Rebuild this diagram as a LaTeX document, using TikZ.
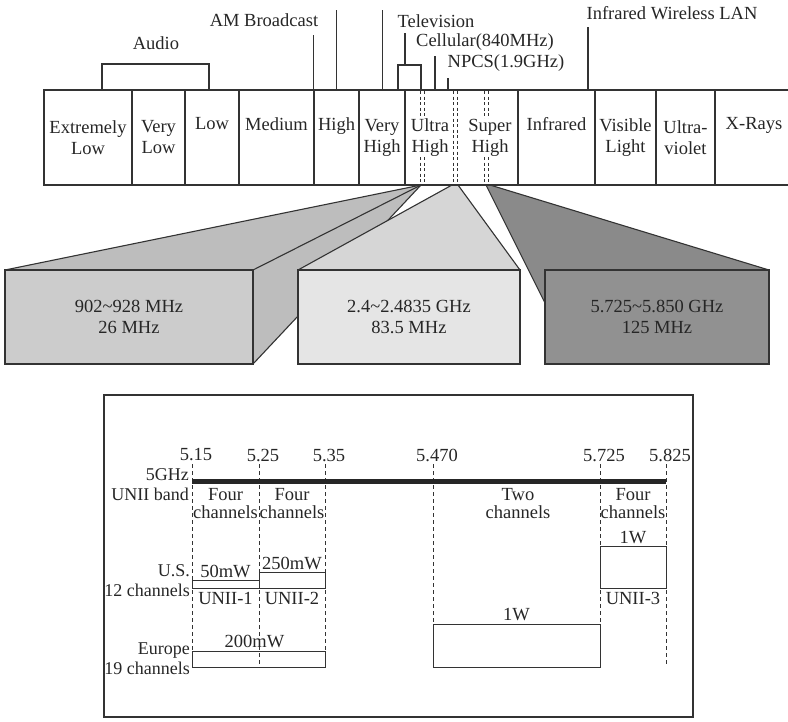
\documentclass[tikz,border=0pt]{standalone}
\usepackage{fontspec}
\setmainfont{Liberation Serif}
\usetikzlibrary{positioning}

\begin{document}
\begin{tikzpicture}[x=1pt, y=-1pt,
  ink/.style={draw=black!80, line width=1.1pt},
  cell/.style={ink, minimum height=95pt, inner sep=0pt, align=center, text=black!85, font=\fontsize{18.5}{21}\selectfont},
  lbl/.style={inner sep=0pt, align=center, text=black!85, font=\fontsize{18.5}{18}\selectfont},
  tag/.style={lbl, anchor=east, align=right, font=\fontsize{18}{20}\selectfont},
  box/.style={ink, minimum height=94pt, inner sep=0pt, align=center, text=black!85, font=\fontsize{18.5}{21}\selectfont},
  pw/.style={draw=black!80, line width=0.9pt, inner sep=0pt, minimum height=8pt},
  pair/.style={draw=black!80, line width=0.8pt, dash pattern=on 3pt off 2.5pt},
  guide/.style={draw=black!80, line width=0.8pt, dash pattern=on 4pt off 3pt}
]
\useasboundingbox (0,0) rectangle (788,721);

% zoomed bands under the spectrum
\fill[black!26] (421,185) -- (5,270) -- (253,270) -- (253,364) -- cycle;
\draw[ink] (421,185) -- (5,270);
\draw[ink] (421,185) -- (253,270);
\draw[ink] (421,185) -- (253,364);
\node[box, fill=black!20, minimum width=248pt] (b900) at (129,317) {902\textasciitilde928 MHz\\26 MHz};

\fill[black!16] (452,185) -- (298,270) -- (520,270) -- (458,185) -- cycle;
\draw[ink] (452,185) -- (298,270);
\draw[ink] (458,185) -- (520,270);
\node[box, fill=black!10, minimum width=222pt] (b2400) at (409,317) {2.4\textasciitilde2.4835 GHz\\83.5 MHz};

\fill[black!46] (486,185) -- (545,303) -- (545,270) -- (769,270) -- (490,185) -- cycle;
\draw[ink] (486,185) -- (545,303);
\draw[ink] (490,185) -- (769,270);
\node[box, fill=black!43, minimum width=224pt] (b5800) at (657,317) {5.725\textasciitilde5.850 GHz\\125 MHz};

% spectrum bar
\node[cell, minimum width=88pt] (elow) at (88,137.5) {Extremely\\Low};
\node[cell, minimum width=53pt] (vlow) at (158.5,137.5) {Very\\Low};
\node[cell, minimum width=54pt] (low) at (212,137.5) {Low\\\strut};
\node[cell, minimum width=75pt] (med) at (276.5,137.5) {Medium\\\strut};
\node[cell, minimum width=45pt] (high) at (336.5,137.5) {High\\\strut};
\node[cell, minimum width=46pt] (vhigh) at (382,137.5) {Very\\High};
\node[cell, minimum width=113pt] (uhigh) at (461.5,137.5) {};
\node[cell, minimum width=77pt] (infra) at (556.5,137.5) {Infrared\\\strut};
\node[cell, minimum width=61pt] (vis) at (625.5,137.5) {Visible\\Light};
\node[cell, minimum width=59pt] (uv) at (685.5,137.5) {Ultra-\\violet};
\node[cell, minimum width=78pt] (xray) at (754,137.5) {X-Rays\\\strut};
\foreach \px in {420,424,453,457,484,488}
  \draw[pair] (\px,91) -- (\px,184);
\node[lbl, fill=white, font=\fontsize{18.5}{21}\selectfont] (ultra) at (430,137.5) {Ultra\\High};
\node[lbl, fill=white, font=\fontsize{18.5}{21}\selectfont] (super) at (490,137.5) {Super\\High};

% services above the bar
\node[lbl] (audio) at (156,43) {Audio};
\node[lbl] (am) at (264,20) {AM Broadcast};
\node[lbl] (tv) at (436,21) {Television};
\node[lbl] (cellular) at (485,42) {Cellular(840MHz)};
\node[lbl] (npcs) at (506,63) {NPCS(1.9GHz)};
\node[lbl] (irlan) at (672,13) {Infrared Wireless LAN};
\draw[ink] (102,90) |- (209,64) -- (209,90);
\draw[ink] (high.north west) -- ++(0,-54);
\draw[ink] ([xshift=23pt]high.north west) -- ++(0,-79);
\draw[ink] ([xshift=24pt]vhigh.north west) -- ++(0,-79);
\draw[ink] (398,90) |- (421,65) -- (421,90);
\draw[ink] (405,65) -- (405,33);
\draw[ink] (435,90) -- (435,56);
\draw[ink] (448,90) -- (448,78);
\draw[ink] (588,90) -- (588,27);

% 5GHz UNII band
\node[draw=black!80, line width=1.1pt, minimum width=589pt, minimum height=322pt] (frame) at (398.5,556) {};
\foreach \gx/\gy in {192/667, 259/667, 325/651, 433/624, 600/667, 666/665}
  \draw[guide] (\gx,464) -- (\gx,\gy);
\foreach \gx/\gt in {192/5.15, 259/5.25, 325/5.35, 433/5.470, 600/5.725, 666/5.825}
  \node[lbl] (t\gx) at (\gx+4,455) {\gt};
\draw[line width=5pt, black!85] (192,481) -- (666,481);

\node[tag] (unii) at (189,484.5) {5GHz\\UNII band};
\node[tag] (us) at (190,581) {U.S.\\12 channels};
\node[tag] (eu) at (190,659) {Europe\\19 channels};

\node[lbl] (ch1) at (225.5,503.5) {Four\\channels};
\node[lbl] (ch2) at (292,503.5) {Four\\channels};
\node[lbl] (ch3) at (518,503.5) {Two\\channels};
\node[lbl] (ch4) at (633,503.5) {Four\\channels};

\node[pw, minimum width=67pt] (p50) at (225.5,584) {};
\node[pw, minimum width=66pt, minimum height=16pt] (p250) at (292,580) {};
\node[pw, minimum width=66pt, minimum height=42pt] (p1wus) at (633,567) {};
\node[pw, minimum width=133pt, minimum height=16pt] (p200) at (258.5,659) {};
\node[pw, minimum width=167pt, minimum height=43pt] (p1weu) at (516.5,645.5) {};

\node[lbl, above=2pt of p50] (w50) {50mW};
\node[lbl, above=2pt of p250] (w250) {250mW};
\node[lbl, above=2pt of p1wus] (w1us) {1W};
\node[lbl, above=3pt of p200, xshift=-4pt] (w200) {200mW};
\node[lbl, above=3pt of p1weu] (w1eu) {1W};
\node[lbl, below=4pt of p50] (unii1) {UNII-1};
\node[lbl, below=4pt of p250] (unii2) {UNII-2};
\node[lbl, below=4pt of p1wus] (unii3) {UNII-3};
\end{tikzpicture}
\end{document}
